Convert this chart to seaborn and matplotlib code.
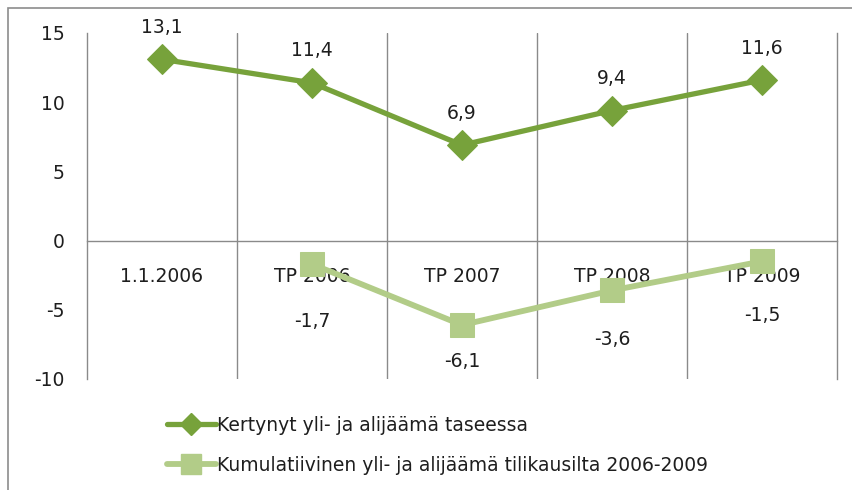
import matplotlib
matplotlib.use('agg')
from matplotlib import pyplot as plt
from matplotlib.lines import Line2D
from matplotlib.patches import Rectangle
import seaborn as sns
import pandas as pd
import numpy as np

categories = ['1.1.2006', 'TP 2006', 'TP 2007', 'TP 2008', 'TP 2009']
kertynyt = [13.1, 11.4, 6.9, 9.4, 11.6]
kumulatiivinen = [np.nan, -1.7, -6.1, -3.6, -1.5]
series_names = ['Kertynyt yli- ja alijäämä taseessa',
                'Kumulatiivinen yli- ja alijäämä tilikausilta 2006-2009']

DARK = '#77A23B'
LIGHT = '#B2CC88'
GRID = '#8A8A8A'
TXT = '#1E1E1E'
FS = 13.5

sns.set_style('white')
plt.rcParams['font.family'] = ['DejaVu Sans']
plt.rcParams['font.size'] = FS

df = pd.DataFrame({'pos': np.arange(len(categories)),
                   'kertynyt': kertynyt,
                   'kumulatiivinen': kumulatiivinen})

fig = plt.figure(figsize=(8.53, 4.9), dpi=100)
W, H = 853, 490
ax = fig.add_axes([87 / W, 1 - 379 / H, 750 / W, 346 / H])

# outer chart frame
fig.patches.append(Rectangle((8 / W, -0.1), 1.0, 1 - 8 / H + 0.1, transform=fig.transFigure,
                             fill=False, edgecolor='#8C8C8C', linewidth=1.2))

sns.lineplot(data=df, x='pos', y='kertynyt', ax=ax, color=DARK, linewidth=3.8,
             marker='D', markersize=15, markeredgecolor=DARK, zorder=4)
sns.lineplot(data=df.dropna(), x='pos', y='kumulatiivinen', ax=ax, color=LIGHT, linewidth=4.2,
             marker='s', markersize=17, markeredgecolor=LIGHT, zorder=4)

ax.set_xlim(-0.5, len(categories) - 0.5)
ax.set_ylim(-10, 15)
ax.set_yticks([-10, -5, 0, 5, 10, 15])
ax.set_xlabel('')
ax.set_ylabel('')

# vertical separators between categories
ax.set_xticks(np.arange(len(categories) - 1) + 0.5, minor=True)
ax.grid(which='minor', axis='x', color=GRID, linewidth=1)
ax.grid(which='major', visible=False)

ax.spines['top'].set_visible(False)
for s in ['left', 'right', 'bottom']:
    ax.spines[s].set_color(GRID)
    ax.spines[s].set_linewidth(1)
ax.spines['bottom'].set_position(('data', 0))

ax.set_xticks(df['pos'])
ax.set_xticklabels(categories, fontsize=FS, color=TXT)
ax.tick_params(axis='x', which='both', length=0, pad=19)
ax.tick_params(axis='y', length=0, pad=16, labelsize=FS, labelcolor=TXT)
ax.set_yticklabels(['-10', '-5', '0', '5', '10', '15'])

def fmt(v):
    return f'{v:.1f}'.replace('.', ',')

for x, v in zip(df['pos'], kertynyt):
    ax.annotate(fmt(v), (x, v), xytext=(0, 23), textcoords='offset points',
                ha='center', va='center', fontsize=FS, color=TXT)

below = [0, 41, 26, 35, 39]
for x, v, off in zip(df['pos'], kumulatiivinen, below):
    if np.isnan(v):
        continue
    ax.annotate(fmt(v), (x, v), xytext=(0, -off), textcoords='offset points',
                ha='center', va='center', fontsize=FS, color=TXT)

handles = [Line2D([], [], color=DARK, linewidth=3.8, marker='D', markersize=11),
           Line2D([], [], color=LIGHT, linewidth=4.2, marker='s', markersize=14)]
fig.legend(handles, series_names, loc='upper left', bbox_to_anchor=(150 / W, 1 - 399 / H),
           frameon=False, handlelength=2.6, handletextpad=0.05, labelspacing=1.1,
           fontsize=FS, labelcolor=TXT)

fig.savefig('out.png', dpi=100)
plt.close(fig)
